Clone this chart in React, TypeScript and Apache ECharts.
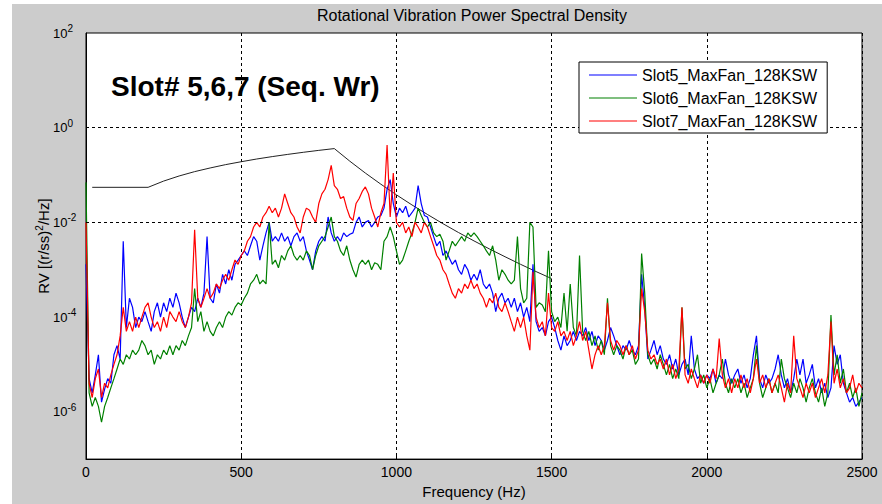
import React, { useEffect, useRef } from 'react';
import * as echarts from 'echarts';

// Frequency bin width of the PSD traces (Hz); traces start at 0 Hz
const FREQ_STEP_HZ = 10;

// Slot5_MaxFan_128KSW  (0 .. 2500 Hz, 10 Hz bins)
const SLOT5 = [
  1.3e-3, 5e-6, 2.5e-6, 6e-6, 1.6e-5, 1.6e-6, 3e-6, 5e-6, 4e-6, 1.6e-5,
  2.5e-5, 1.3e-5, 4e-3, 6e-5, 2.5e-4, 1.6e-4, 6e-5, 1e-4, 8e-5, 1.3e-4,
  8e-5, 5e-5, 1.3e-4, 2e-4, 1e-4, 2e-4, 1.3e-4, 2.5e-4, 1.6e-4, 3.2e-4,
  2e-4, 1e-4, 6e-5, 1e-4, 1.6e-4, 1.3e-4, 2.5e-4, 1.6e-4, 3.2e-4, 5e-3,
  2.5e-4, 2e-4, 5e-4, 3.2e-4, 8e-4, 5e-4, 1e-3, 6e-4, 1.3e-3, 1.6e-3,
  2e-3, 2.5e-3, 2e-3, 3.2e-3, 5e-3, 4e-3, 1.6e-3, 3.2e-3, 6e-3, 1e-2,
  4e-3, 5e-3, 4e-3, 6e-3, 4e-3, 5e-3, 3.2e-3, 5e-3, 6e-3, 4e-3,
  5e-3, 2.5e-3, 1.6e-3, 1e-3, 2.5e-3, 4e-3, 5e-3, 4e-3, 1.3e-2, 6e-3,
  4e-3, 5e-3, 4e-3, 6e-3, 5e-3, 5.6e-3, 6e-3, 1e-2, 1.3e-2, 8e-3,
  1e-2, 1.1e-2, 8e-3, 1e-2, 1.3e-2, 1.4e-2, 2e-2, 5e-2, 8e-2, 2.5e-2,
  1.3e-2, 2e-2, 1.6e-2, 2.2e-2, 1.3e-2, 1.6e-2, 2e-2, 6e-2, 2.5e-2, 1.4e-2,
  1.3e-2, 8e-3, 5e-3, 3.2e-3, 4e-3, 2e-3, 2.5e-3, 1.8e-3, 1.3e-3, 1.6e-3,
  1e-3, 8e-4, 1.3e-3, 1e-3, 6e-4, 8e-4, 6e-4, 1e-3, 5e-4, 4e-4,
  5e-4, 3.2e-4, 1.3e-4, 2.5e-4, 3.2e-4, 2e-4, 2.5e-4, 1.6e-4, 2.5e-4, 1.3e-4,
  2e-4, 1e-4, 1.6e-4, 8e-5, 1.3e-3, 8e-5, 5e-5, 6e-5, 4e-5, 8e-5,
  1e-4, 6e-5, 3.2e-5, 2e-5, 4e-5, 2.5e-5, 3.2e-5, 5e-5, 3.2e-5, 5e-5,
  4e-5, 6e-5, 3.2e-5, 5e-5, 2.5e-5, 4e-5, 3.2e-5, 2e-5, 3.2e-5, 6e-5,
  4e-5, 2.5e-5, 1.6e-5, 2.5e-5, 2e-5, 3.2e-5, 2e-5, 1.6e-5, 2.5e-5, 8e-4,
  1.6e-4, 1.3e-5, 2e-5, 3.2e-5, 1.6e-5, 2.5e-5, 1.3e-5, 1e-5, 1.6e-5, 8e-6,
  1.3e-5, 6e-6, 1e-5, 1.3e-5, 6e-6, 4e-5, 8e-6, 5e-6, 6e-6, 4e-6,
  6e-6, 5e-6, 8e-6, 4e-6, 6e-6, 5e-6, 1.3e-5, 6e-6, 4e-6, 6e-6,
  8e-6, 4e-6, 6e-6, 3.2e-6, 5e-6, 1.6e-5, 4e-5, 5e-6, 3.2e-6, 6e-6,
  4e-6, 5e-6, 8e-6, 1.6e-5, 6e-6, 3.2e-6, 5e-6, 2.5e-6, 5e-6, 1.3e-5,
  6e-6, 1.3e-5, 4e-6, 6e-6, 1e-5, 3.2e-6, 5e-6, 2.5e-6, 4e-6, 2e-6,
  3.2e-6, 2.5e-5, 1e-5, 1.6e-5, 4e-6, 2.5e-6, 1.6e-6, 2e-6, 1.3e-6, 1.6e-6,
  2e-6,
];

// Slot6_MaxFan_128KSW
const SLOT6 = [
  7e-2, 2.5e-6, 1.3e-6, 2e-6, 1.3e-6, 6e-7, 1.3e-6, 2e-6, 3.2e-6, 5e-6,
  8e-6, 1.3e-5, 1e-5, 1.6e-5, 1.3e-5, 2e-5, 1.6e-5, 2e-5, 3.2e-5, 2.5e-5,
  1.6e-5, 2e-5, 1e-5, 1.6e-5, 1.3e-5, 2e-5, 1.6e-5, 2.5e-5, 1.6e-5, 2.5e-5,
  2e-5, 3.2e-5, 2.5e-5, 4e-5, 6e-5, 4e-4, 8e-5, 1.3e-4, 5e-5, 8e-5,
  5e-5, 4e-5, 6e-5, 8e-5, 6e-5, 1e-4, 1.3e-4, 1.1e-4, 1.6e-4, 2e-4,
  1.8e-4, 2.5e-4, 3.2e-4, 5e-4, 6e-4, 8e-4, 5e-4, 6e-4, 5e-4, 1e-2,
  1.3e-3, 1.6e-3, 1.1e-3, 2e-3, 1.6e-3, 2.5e-3, 3.2e-3, 2e-3, 1.6e-3, 2e-3,
  1.6e-3, 2.5e-3, 2e-3, 1e-3, 2e-3, 3.2e-3, 4e-3, 5e-3, 8e-3, 1.3e-2,
  5e-3, 4e-3, 2.5e-3, 2e-3, 3.2e-3, 1.6e-3, 1e-3, 7e-4, 1.3e-3, 1.6e-3,
  1.3e-3, 1.6e-3, 1e-3, 1.4e-3, 1.3e-3, 1e-3, 4e-3, 5e-3, 8e-3, 5e-3,
  2.5e-3, 1.3e-3, 1.6e-3, 2.5e-3, 4e-3, 6e-3, 1e-2, 2e-2, 1.4e-2, 1e-2,
  8e-3, 1e-2, 6e-3, 5e-3, 5.6e-3, 4e-3, 1.6e-3, 2.5e-3, 4e-3, 3.2e-3,
  4e-3, 5e-3, 4e-3, 6e-3, 5e-3, 6e-3, 5e-3, 4e-3, 3.2e-3, 2.5e-3,
  2e-3, 3.2e-3, 1.6e-3, 6e-4, 1e-3, 8e-4, 6e-4, 5e-4, 6e-4, 5e-3,
  4e-4, 2e-4, 2.5e-4, 1e-2, 8e-3, 1.6e-4, 2e-4, 1.8e-4, 1.3e-4, 2.5e-3,
  1.3e-4, 8e-5, 1e-4, 6e-5, 3.2e-4, 5e-5, 5e-4, 6e-5, 4e-5, 2e-3,
  5e-5, 3.2e-5, 5e-5, 2.5e-5, 4e-5, 2e-5, 3.2e-5, 1.6e-5, 2.5e-4, 2.5e-5,
  1.6e-5, 2.5e-5, 2e-5, 1.3e-5, 2.5e-5, 1.6e-5, 2e-5, 1e-5, 1.3e-5, 2.2e-3,
  3.2e-4, 1.6e-5, 1e-5, 1.3e-5, 8e-6, 1.6e-5, 1e-5, 6e-6, 1e-5, 5e-6,
  8e-6, 5e-6, 1.6e-4, 8e-6, 1e-5, 5e-6, 8e-6, 1.6e-5, 4e-6, 6e-6,
  3.2e-6, 5e-6, 2.5e-6, 4e-6, 6e-6, 1.3e-5, 4e-6, 2.5e-6, 5e-6, 3.2e-6,
  5e-6, 2.5e-6, 4e-6, 2e-6, 3.2e-6, 5e-6, 2.5e-5, 4e-6, 2e-6, 3.2e-6,
  5e-6, 2.5e-6, 4e-6, 2.5e-6, 1.3e-5, 5e-6, 3.2e-6, 2e-6, 4e-6, 2.5e-6,
  5e-6, 3.2e-6, 1.6e-6, 3.2e-6, 5e-6, 2.5e-6, 1.6e-6, 3.2e-6, 1.3e-6, 2.5e-6,
  1.1e-4, 6e-6, 1.6e-5, 4e-6, 8e-6, 2.5e-6, 4e-6, 2e-6, 3.2e-6, 1.3e-6,
  2.5e-6,
];

// Slot7_MaxFan_128KSW
const SLOT7 = [
  1e-2, 4e-6, 2e-6, 5e-6, 8e-6, 2e-6, 4e-6, 3.2e-6, 6e-6, 1e-5,
  1.6e-5, 4e-5, 1.6e-4, 5e-5, 8e-5, 5e-5, 1e-4, 6e-5, 1e-4, 1.6e-4,
  2e-4, 1e-4, 6e-5, 8e-5, 5e-5, 1e-4, 6e-5, 1.3e-4, 1e-4, 8e-5,
  1.3e-4, 8e-5, 6e-5, 1e-4, 2e-4, 7e-3, 2.5e-4, 1.6e-4, 2.5e-4, 4e-4,
  2.5e-4, 3.2e-4, 5e-4, 4e-4, 6e-4, 8e-4, 6e-4, 1e-3, 1.6e-3, 1.3e-3,
  2e-3, 2.5e-3, 4e-3, 5e-3, 8e-3, 1e-2, 8e-3, 1.3e-2, 1.6e-2, 2.2e-2,
  1.6e-2, 2e-2, 1.3e-2, 2e-2, 4e-2, 2.5e-2, 1.6e-2, 1.3e-2, 8e-3, 6e-3,
  1.3e-2, 2e-2, 1.8e-2, 1.3e-2, 1e-2, 2.5e-2, 4e-2, 5e-2, 8e-2, 1.6e-1,
  6e-2, 5e-2, 3.2e-2, 3.5e-2, 2e-2, 1.3e-2, 1.1e-2, 2.5e-2, 3.2e-2, 4.5e-2,
  5.6e-2, 4e-2, 2e-2, 1.3e-2, 8e-3, 1.6e-2, 2.5e-2, 4.3e-1, 1.3e-2, 1.1e-1,
  1e-2, 8e-3, 1e-2, 6e-3, 8e-3, 5e-3, 1e-2, 8e-3, 6e-3, 1e-2,
  8e-3, 5e-3, 3.2e-3, 2e-3, 1.6e-3, 1e-3, 8e-4, 5e-4, 3.2e-4, 2.5e-4,
  4e-4, 3.2e-4, 5e-4, 4e-4, 6e-4, 4e-4, 5e-4, 3.2e-4, 2.5e-4, 1.6e-4,
  2.5e-4, 2e-4, 3.2e-4, 1.6e-4, 1.3e-4, 2e-4, 1.3e-4, 8e-5, 5e-5, 1e-4,
  6e-5, 1e-4, 4e-5, 2e-5, 9e-4, 1e-4, 6e-5, 8e-5, 4e-5, 3.2e-4,
  6e-5, 5e-5, 8e-5, 4e-5, 5e-5, 3.2e-5, 5e-5, 2.5e-5, 4e-5, 8e-5,
  3.2e-5, 5e-5, 2e-5, 8e-6, 1.6e-5, 2.5e-5, 1.6e-5, 2.5e-5, 2e-4, 3.2e-5,
  2e-5, 3.2e-5, 2.5e-5, 1.6e-5, 2.5e-5, 1.6e-5, 2.5e-5, 1.3e-5, 2e-5, 4e-4,
  1.3e-4, 2e-5, 1.3e-5, 1.6e-5, 1e-5, 1.3e-5, 8e-6, 1.3e-5, 6e-6, 1e-5,
  5e-6, 8e-6, 1.6e-4, 6e-6, 4e-6, 8e-6, 5e-6, 3.2e-6, 6e-6, 4e-6,
  6e-6, 4e-6, 8e-6, 5e-6, 3.5e-5, 6e-6, 3.2e-6, 5e-6, 2.5e-6, 5e-6,
  3.2e-6, 6e-6, 3.2e-6, 5e-6, 2.5e-6, 5e-6, 1.3e-5, 4e-6, 6e-6, 3.2e-6,
  5e-6, 2.5e-6, 4e-6, 6e-6, 3.2e-6, 1.6e-6, 4e-6, 2.5e-6, 4e-5, 5e-6,
  3.2e-6, 2e-6, 4e-6, 2.5e-6, 4e-6, 2e-6, 3.2e-6, 5e-6, 2.5e-6, 6e-6,
  8e-5, 4e-6, 8e-6, 3.2e-6, 5e-6, 2.5e-6, 3.2e-6, 6e-6, 2.5e-6, 4e-6,
  3.2e-6,
];

// Specification limit (black curve)
const SPEC_FREQ = [
  20, 200, 250, 300, 350, 400, 450, 500, 550, 600, 650, 700, 750, 800,
  850, 900, 950, 1000, 1050, 1100, 1150, 1200, 1250, 1300, 1350, 1400, 1450, 1500,
];
const SPEC_VAL = [
  0.055, 0.055, 0.0745, 0.0955, 0.118, 0.141, 0.166, 0.191, 0.218, 0.245, 0.273, 0.302, 0.332, 0.362,
  0.196, 0.11, 0.064, 0.0382, 0.0234, 0.0147, 0.00938, 0.00611, 0.00406, 0.00274, 0.00188, 0.0013, 0.000913, 0.00065,
];

const SERIES_NAMES = ['Slot5_MaxFan_128KSW', 'Slot6_MaxFan_128KSW', 'Slot7_MaxFan_128KSW'];
const SERIES_COLORS = ['#0000ff', '#008000', '#ff0000'];
const Y_GRID_LINES = [1, 1e-2, 1e-4, 1e-6];

const CHART_TITLE = 'Rotational Vibration Power Spectral Density';
const ANNOTATION = 'Slot# 5,6,7 (Seq. Wr)';

const FONT = '"Liberation Sans", Arial, Helvetica, sans-serif';

export default function App() {
  const ref = useRef<HTMLDivElement>(null);

  useEffect(() => {
    if (!ref.current) return;
    const chart = echarts.init(ref.current, null, { renderer: 'svg' });
    const toPairs = (arr: number[]) => arr.map((v, i) => [i * FREQ_STEP_HZ, v]);
    const traces = [SLOT5, SLOT6, SLOT7];

    chart.setOption({
      animation: false,
      backgroundColor: 'transparent',
      textStyle: { fontFamily: FONT },
      grid: {
        left: 86,
        top: 33,
        right: 20,
        bottom: 43,
        show: true,
        backgroundColor: '#ffffff',
        borderColor: '#000000',
        borderWidth: 1,
        containLabel: false,
      },
      graphic: [
        {
          type: 'text',
          x: 472,
          y: 15,
          style: {
            text: CHART_TITLE,
            fill: '#000',
            font: `16px ${FONT}`,
            align: 'center',
            verticalAlign: 'middle',
            textAlign: 'center',
            textVerticalAlign: 'middle',
          },
        },
        {
          type: 'text',
          x: 111,
          y: 86,
          z: 10,
          style: {
            text: ANNOTATION,
            fill: '#000',
            font: `bold 28px ${FONT}`,
            align: 'left',
            verticalAlign: 'middle',
            textAlign: 'left',
            textVerticalAlign: 'middle',
          },
        },
      ],
      legend: {
        data: SERIES_NAMES.map((n) => ({ name: n, icon: 'rect' })),
        orient: 'vertical',
        left: 579,
        top: 62,
        padding: [5, 10, 4, 10],
        itemWidth: 48,
        itemHeight: 1,
        itemGap: 7,
        borderColor: '#000',
        borderWidth: 1,
        borderRadius: 0,
        backgroundColor: '#ffffff',
        textStyle: { fontSize: 16, color: '#000', fontFamily: FONT, lineHeight: 16 },
        z: 20,
      },
      xAxis: {
        type: 'value',
        min: 0,
        max: 2500,
        interval: 500,
        name: 'Frequency (Hz)',
        nameLocation: 'middle',
        nameGap: 24,
        nameTextStyle: { fontSize: 15, color: '#000', fontFamily: FONT },
        axisLine: { show: true, onZero: false, lineStyle: { color: '#000', width: 1 } },
        axisTick: { show: true, inside: true, length: 5, lineStyle: { color: '#000' } },
        axisLabel: {
          fontSize: 14,
          color: '#000',
          margin: 6,
          fontFamily: FONT,
          formatter: (v: number) => String(v),
        },
        splitLine: { show: true, lineStyle: { color: '#000', type: [3, 3], width: 1 } },
      },
      yAxis: {
        type: 'log',
        logBase: 10,
        min: 1e-7,
        max: 1e2,
        splitNumber: 9,
        name: 'RV [(r/ss){sup|2}/Hz]',
        nameLocation: 'middle',
        nameGap: 34,
        nameRotate: 90,
        nameMoveOverlap: false,
        nameTextStyle: {
          fontSize: 15,
          color: '#000',
          fontFamily: FONT,
          rich: { sup: { fontSize: 10, color: '#000', padding: [0, 0, 8, 0], fontFamily: FONT } },
        },
        axisLine: { show: true, lineStyle: { color: '#000', width: 1 } },
        axisTick: { show: false },
        splitLine: { show: false },
        axisLabel: {
          margin: 33,
          align: 'left',
          color: '#000',
          formatter: (value: number) => {
            const e = Math.round(Math.log10(value));
            if (e % 2 !== 0) return '';
            return `{b|10}{sup|${e}}`;
          },
          rich: {
            b: { fontSize: 13, color: '#000', fontFamily: FONT },
            sup: { fontSize: 10, color: '#000', fontFamily: FONT, padding: [0, 0, 9, 0] },
          },
        },
      },
      series: [
        {
          name: 'spec',
          type: 'line',
          data: SPEC_FREQ.map((f, i) => [f, SPEC_VAL[i]]),
          symbol: 'none',
          silent: true,
          lineStyle: { color: '#222', width: 1 },
          itemStyle: { color: '#222' },
          markLine: {
            silent: true,
            symbol: ['none', 'none'],
            label: { show: false },
            lineStyle: { color: '#000', type: [3, 3], width: 1 },
            data: Y_GRID_LINES.map((v) => ({ yAxis: v })),
          },
        },
        ...traces.map((arr, k) => ({
          name: SERIES_NAMES[k],
          type: 'line',
          data: toPairs(arr),
          symbol: 'none',
          silent: true,
          lineStyle: { color: SERIES_COLORS[k], width: 1.2 },
          itemStyle: { color: SERIES_COLORS[k] },
        })),
      ],
    });

    return () => chart.dispose();
  }, []);

  return (
    <div style={{ position: 'fixed', left: 0, top: 0, width: 882, height: 504, background: '#ffffff' }}>
      <div style={{ position: 'absolute', left: 12, top: 4, width: 870, height: 500, background: '#cccccc' }} />
      <div ref={ref} style={{ position: 'absolute', left: 0, top: 0, width: 882, height: 504 }} />
    </div>
  );
}
